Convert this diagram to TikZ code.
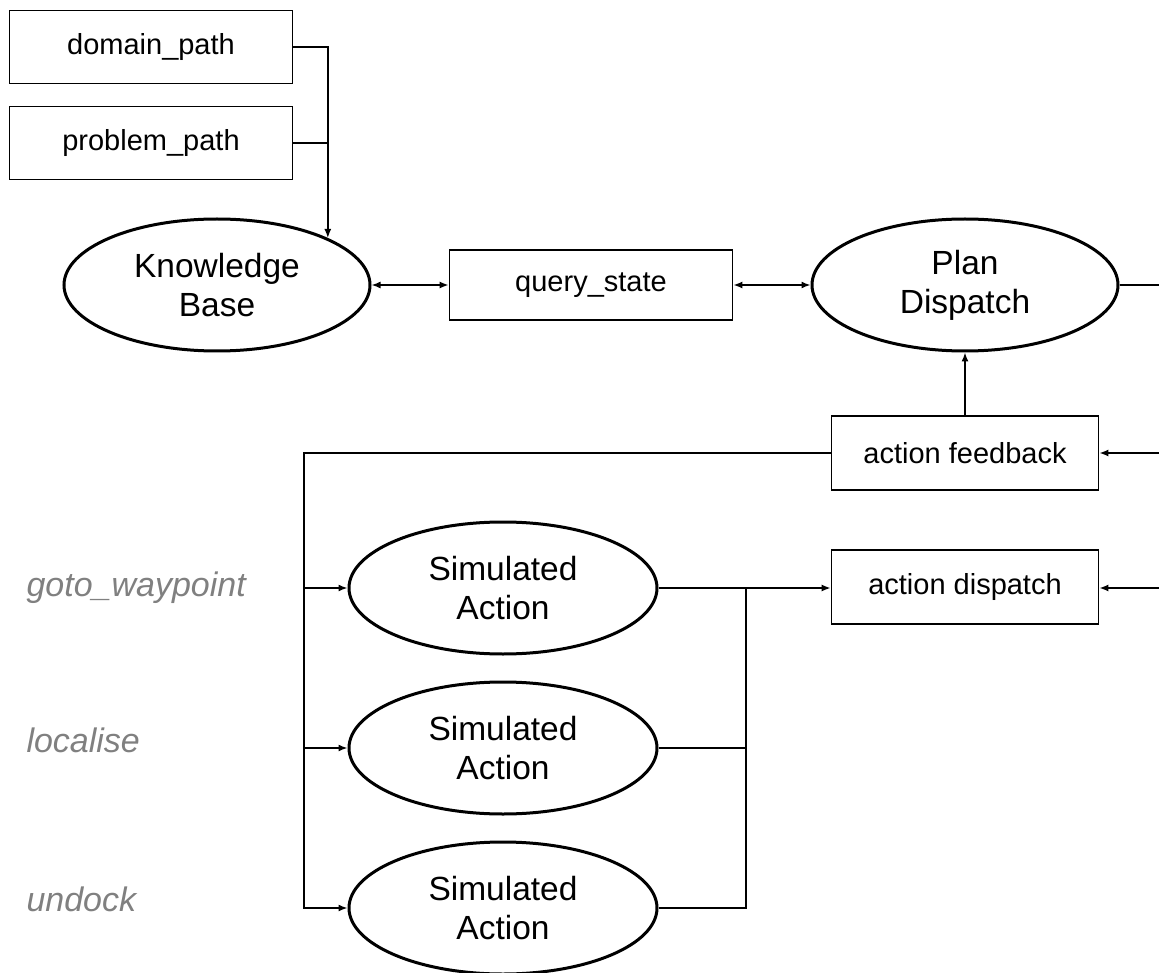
\documentclass[tikz,border=0pt]{standalone}
\usepackage{fontspec}
\setmainfont{Liberation Sans}
\usepackage{xcolor}
\usepackage{tikz}
\usetikzlibrary{shapes,arrows.meta,positioning,calc}
\definecolor{labelgray}{HTML}{808080}

\begin{document}
\begin{tikzpicture}[x=1pt, y=-1pt,
    param/.style={rectangle, draw=black, line width=1.8pt, minimum width=283pt,
                  minimum height=73pt, inner sep=0pt, font=\fontsize{29}{34}\selectfont},
    msgbox/.style={rectangle, draw=black, line width=1.8pt, minimum width=267pt,
                   minimum height=74pt, inner sep=0pt, font=\fontsize{29}{34}\selectfont},
    process/.style={ellipse, draw=black, line width=3pt, minimum width=306pt,
                    minimum height=132pt, inner sep=0pt, align=center,
                    font=\fontsize{33.5}{39}\selectfont},
    actname/.style={anchor=base west, text=labelgray, font=\fontsize{34}{40}\selectfont\itshape},
    link/.style={line width=1.5pt},
    arrow/.style={->, >={Latex[length=9pt,width=7pt]}, line width=1.5pt},
    biarrow/.style={<->, >={Latex[length=9pt,width=7pt]}, line width=1.5pt}
]
    \useasboundingbox (0,0) rectangle (1159,973);

    % Parameters
    \node[param] (domain) at (151,47) {domain\_path};
    \node[param] (problem) at (151,143) {problem\_path};

    % Knowledge Base and Plan Dispatch
    \node[process] (kb) at (217,285) {Knowledge\\Base};
    \node[process] (plan) at (965,285) {Plan\\Dispatch};
    \node[msgbox, minimum width=283pt, minimum height=70pt] (query) at (591,285) {query\_state};

    % Topics
    \node[msgbox] (feedback) at (965,453) {action feedback};
    \node[msgbox] (dispatch) at (965,587) {action dispatch};

    % Simulated actions
    \node[process, minimum width=308pt] (simA) at (503,588) {Simulated\\Action};
    \node[process, minimum width=308pt] (simB) at (503,748) {Simulated\\Action};
    \node[process, minimum width=308pt] (simC) at (503,908) {Simulated\\Action};

    % Action names
    \node[actname] (gotolbl) at (23,596) {goto\_waypoint};
    \node[actname] (localiselbl) at (23,752) {localise};
    \node[actname] (undocklbl) at (23,911) {undock};

    % Free ends and buses
    \coordinate (planout) at (1159,285);
    \coordinate (feedbackin) at (1159,453);
    \coordinate (dispatchin) at (1159,588);
    \coordinate (lbus) at (304,0);
    \coordinate (rbus) at (746,0);

    % Connections
    \draw[arrow] (domain.east) -| (kb.23);
    \draw[link] (problem.east) -- (problem.east -| kb.23);
    \draw[biarrow] (kb.east) -- (query.west);
    \draw[biarrow] (query.east) -- (plan.west);
    \draw[link] (plan.east) -- (planout);
    \draw[arrow] (feedback.north) -- (plan.south);
    \draw[arrow] (feedbackin) -- (feedback.east);
    \draw[arrow] (dispatchin) -- (dispatch.east |- dispatchin);
    \draw[arrow] (feedback.west) -| (lbus |- simC.west) -- (simC.west);
    \draw[arrow] (lbus |- simA.west) -- (simA.west);
    \draw[arrow] (lbus |- simB.west) -- (simB.west);
    \draw[arrow] (simA.east) -- (simA.east -| dispatch.west);
    \draw[link] (simB.east) -- (rbus |- simB.east);
    \draw[link] (simC.east) -| (rbus |- simA.east);
\end{tikzpicture}
\end{document}
